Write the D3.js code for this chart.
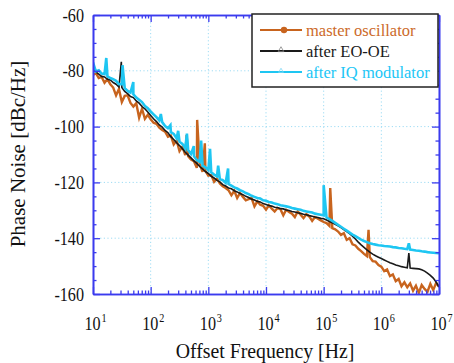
<!DOCTYPE html>
<html><head><meta charset="utf-8">
<script src="https://cdn.jsdelivr.net/npm/d3@7"></script>
<style>body{margin:0;background:#fff}svg{display:block}</style>
</head><body>
<svg id="c" width="454" height="363"></svg>
<script>
// ---- data ----
const logFreq = [1.00,1.05,1.10,1.15,1.20,1.25,1.30,1.35,1.40,1.45,1.50,1.55,1.60,1.65,1.70,1.75,1.80,1.85,1.90,1.95,
2.00,2.05,2.10,2.15,2.20,2.25,2.30,2.35,2.40,2.45,2.50,2.55,2.60,2.65,2.70,2.75,2.80,2.85,2.90,2.95,
3.00,3.05,3.10,3.15,3.20,3.25,3.30,3.35,3.40,3.45,3.50,3.55,3.60,3.65,3.70,3.75,3.80,3.85,3.90,3.95,
4.00,4.05,4.10,4.15,4.20,4.25,4.30,4.35,4.40,4.45,4.50,4.55,4.60,4.65,4.70,4.75,4.80,4.85,4.90,4.95,
5.00,5.05,5.10,5.15,5.20,5.25,5.30,5.35,5.40,5.45,5.50,5.55,5.60,5.65,5.70,5.75,5.80,5.85,5.90,5.95,
6.00,6.05,6.10,6.15,6.20,6.25,6.30,6.35,6.40,6.45,6.50,6.55,6.60,6.65,6.70,6.75,6.80,6.85,6.90,6.95,7.00];

const masterOsc = [-81.5,-80.8,-82.6,-82.2,-84.3,-83.0,-84.8,-86.0,-88.8,-86.5,
-91.2,-89.0,-88.8,-91.5,-92.8,-91.6,-96.8,-93.6,-97.2,-95.8,
-97.4,-98.6,-99.0,-100.4,-101.2,-101.8,-103.6,-103.2,-106.4,-105.0,
-108.8,-107.2,-110.2,-110.6,-111.8,-112.4,-114.8,-113.4,-116.2,-116.0,
-117.6,-117.4,-119.8,-118.6,-120.4,-121.4,-122.0,-122.8,-124.6,-123.0,
-125.6,-123.8,-125.2,-126.4,-126.0,-125.6,-128.6,-126.8,-128.0,-128.4,
-129.8,-128.2,-129.4,-130.4,-129.2,-129.6,-131.8,-129.8,-130.6,-131.2,
-132.4,-130.4,-131.6,-132.8,-131.4,-132.2,-133.8,-132.4,-133.0,-133.6,
-134.2,-134.6,-135.6,-136.4,-136.8,-137.6,-138.8,-138.2,-140.6,-140.0,
-142.2,-142.6,-143.8,-144.6,-145.6,-146.4,-146.8,-148.2,-148.4,-149.6,
-150.2,-151.8,-151.2,-153.6,-153.0,-155.4,-154.6,-157.2,-155.8,-157.6,
-156.2,-158.8,-157.0,-159.6,-156.8,-158.2,-159.2,-156.4,-158.6,-156.0,-157.4];

const afterEOOE = [-79.5,-80.4,-81.2,-82.0,-82.2,-83.0,-83.3,-84.2,-84.8,-85.8,
-86.0,-87.4,-88.2,-89.2,-89.6,-90.8,-91.6,-92.8,-93.6,-94.8,
-96.0,-97.2,-98.2,-99.4,-100.2,-101.4,-102.2,-103.6,-104.6,-105.8,
-106.8,-107.9,-109.2,-110.2,-111.2,-112.3,-113.2,-114.3,-115.2,-116.1,
-116.8,-117.8,-118.4,-119.3,-119.8,-120.8,-121.3,-122.0,-122.3,-123.0,
-123.4,-124.0,-124.4,-125.0,-125.4,-126.0,-126.3,-126.8,-127.0,-127.6,
-127.9,-128.3,-128.5,-128.9,-129.0,-129.4,-129.5,-129.9,-130.1,-130.4,
-130.6,-130.9,-131.1,-131.4,-131.6,-131.9,-132.1,-132.4,-132.6,-132.9,
-133.0,-133.5,-134.0,-134.5,-135.0,-135.6,-136.2,-136.9,-137.6,-138.4,
-139.3,-140.3,-141.4,-142.4,-143.3,-144.2,-145.0,-145.7,-146.3,-146.8,
-147.3,-147.8,-148.3,-148.8,-149.2,-149.6,-149.9,-150.2,-150.4,-150.6,
-150.7,-150.8,-150.9,-151.0,-151.3,-151.8,-152.5,-153.3,-154.3,-155.7,-157.5];

const afterIQ = [-77.0,-80.2,-79.8,-81.0,-81.2,-82.0,-82.6,-83.0,-83.6,-84.8,
-84.8,-86.2,-87.2,-87.8,-88.4,-89.6,-90.4,-91.2,-92.6,-93.4,
-94.6,-95.6,-96.6,-97.8,-98.4,-99.8,-100.6,-102.0,-102.6,-104.2,
-105.4,-106.2,-107.8,-108.4,-109.8,-110.6,-112.0,-112.6,-114.0,-114.6,
-115.6,-116.4,-117.2,-117.8,-118.8,-119.2,-120.2,-120.6,-121.2,-121.8,
-122.2,-122.8,-123.2,-123.8,-124.2,-124.8,-125.2,-125.6,-125.8,-126.4,
-126.6,-127.0,-127.2,-127.6,-127.8,-128.2,-128.4,-128.6,-128.8,-129.2,
-129.4,-129.6,-129.8,-130.2,-130.4,-130.6,-130.8,-131.2,-131.4,-131.6,
-131.8,-132.6,-133.2,-133.8,-134.5,-135.2,-135.9,-136.6,-137.3,-138.0,
-138.7,-139.3,-139.9,-140.5,-141.0,-141.4,-141.8,-142.1,-142.3,-142.5,
-142.6,-142.8,-142.9,-143.0,-143.2,-143.3,-143.5,-143.6,-143.8,-143.9,
-144.1,-144.2,-144.4,-144.5,-144.7,-144.8,-145.0,-145.1,-145.2,-145.3,-145.4];

// spurs: [frequency Hz, level dBc/Hz]
const masterSpurs = [[420,-103],[640,-97.6],[870,-106],[1.3e5,-122],[6.0e5,-137]];
const eoSpurs = [[31,-76.8],[3.0e6,-145.3]];
const iqSpurs = [[17,-75.4],[32.5,-78],[50,-84],[150,-95.5],[220,-99.5],[300,-101.5],[425,-102.5],[560,-107],[750,-105],[1070,-108],[1480,-114],[2200,-115],[1.0e5,-121],[3.0e6,-141.8]];

const xTickExp = [1,2,3,4,5,6,7];
const yTicks = [-60,-80,-100,-120,-140,-160];
const legendLabels = ["master oscillator","after EO-OE","after IQ modulator"];
const colors = ["#c8641e","#1a1a1a","#1ec6f2"];

// ---- chart ----
const svg = d3.select("#c");
const L = 93, R = 439, T = 15, B = 294;
const x = d3.scaleLog().domain([10,1e7]).range([L,R]);
const y = d3.scaleLinear().domain([-160,-60]).range([B,T]);
const axisColor = "#3b3bee";
const font = "'Liberation Serif','Times New Roman',serif";

svg.append("defs").append("clipPath").attr("id","pa")
  .append("rect").attr("x",L).attr("y",T).attr("width",R-L).attr("height",B-T);

// grid
const g = svg.append("g").attr("stroke","#9edcf4").attr("stroke-width",1).attr("stroke-dasharray","1.2,2.4");
[100,1e3,1e4,1e5,1e6].forEach(v=>g.append("line").attr("x1",x(v)).attr("x2",x(v)).attr("y1",T).attr("y2",B));
[-80,-100,-120,-140].forEach(v=>g.append("line").attr("x1",L).attr("x2",R).attr("y1",y(v)).attr("y2",y(v)));

function build(vals, spurs){
  const pts = logFreq.map((lf,i)=>[Math.pow(10,lf), vals[i]]);
  spurs.forEach(s=>pts.push(s));
  pts.sort((a,b)=>a[0]-b[0]);
  return pts;
}
const series = [build(masterOsc,masterSpurs), build(afterEOOE,eoSpurs), build(afterIQ,iqSpurs)];
const widths = [2.4,1.6,2.6];
const line = d3.line().x(d=>x(d[0])).y(d=>y(d[1]));
const dg = svg.append("g").attr("clip-path","url(#pa)");
[0,1,2].forEach(k=>{
  dg.append("path").attr("d",line(series[k])).attr("fill","none")
    .attr("stroke",colors[k]).attr("stroke-width",widths[k]).attr("stroke-linejoin","miter");
});

// axes
const major = d3.range(1,8).map(e=>Math.pow(10,e));
const minor = [];
for(let e=1;e<7;e++) for(let m=2;m<10;m++) minor.push(m*Math.pow(10,e));
const yMinor = d3.range(-155,-60,5).filter(v=>v%20!==0);
function styleAxis(sel){
  sel.select(".domain").attr("stroke",axisColor).attr("stroke-width",1.6);
  sel.selectAll(".tick line").attr("stroke",axisColor).attr("stroke-width",1.3);
  sel.selectAll("text").remove();
}
const ax = [
  [d3.axisBottom, x, `translate(0,${B})`, major, minor],
  [d3.axisTop, x, `translate(0,${T})`, major, minor],
  [d3.axisLeft, y, `translate(${L},0)`, yTicks, yMinor],
  [d3.axisRight, y, `translate(${R},0)`, yTicks, yMinor]
];
ax.forEach(([fn,sc,tr,mj,mn])=>{
  svg.append("g").attr("transform",tr).call(fn(sc).tickValues(mn).tickSize(-3.5).tickSizeOuter(0).tickFormat("")).call(styleAxis);
  svg.append("g").attr("transform",tr).call(fn(sc).tickValues(mj).tickSize(-7).tickSizeOuter(0).tickFormat("")).call(styleAxis);
});

// y tick labels
yTicks.forEach(v=>{
  svg.append("text").attr("transform",`translate(84,${y(v)+6.5}) scale(0.85,1)`)
    .attr("text-anchor","end").attr("font-family",font).attr("font-size",19).attr("fill","#111").text(v);
});
// x tick labels
xTickExp.forEach(e=>{
  const t = svg.append("text").attr("transform",`translate(${x(Math.pow(10,e))-8.5},330) scale(0.85,1)`)
    .attr("font-family",font).attr("font-size",19).attr("fill","#111");
  t.append("tspan").text("10");
  t.append("tspan").attr("font-size",12).attr("dy",-8).attr("dx",1).text(e);
});
// axis titles
svg.append("text").attr("transform","translate(265,358) scale(0.9,1)").attr("text-anchor","middle")
  .attr("font-family",font).attr("font-size",22).attr("fill","#111").text("Offset Frequency [Hz]");
svg.append("text").attr("transform","translate(25,154) rotate(-90)").attr("text-anchor","middle")
  .attr("font-family",font).attr("font-size",21).attr("fill","#111").text("Phase Noise [dBc/Hz]");

// legend
const lg = svg.append("g");
lg.append("rect").attr("x",252).attr("y",14).attr("width",186).attr("height",73)
  .attr("fill","#fff").attr("stroke","#222").attr("stroke-width",1.5);
const rows = [30,51,72];
const textColors = ["#cc6a2a","#1a1a1a","#22c6f6"];
legendLabels.forEach((lab,i)=>{
  lg.append("line").attr("x1",260).attr("x2",302).attr("y1",rows[i]).attr("y2",rows[i])
    .attr("stroke",colors[i]).attr("stroke-width",2);
  lg.append("text").attr("x",306).attr("y",rows[i]+5.5).attr("font-family",font).attr("font-size",16.5)
    .attr("fill",textColors[i]).text(lab);
});
lg.append("circle").attr("cx",284).attr("cy",rows[0]).attr("r",3.2).attr("fill",colors[0]);
lg.append("path").attr("d",d3.symbol(d3.symbolTriangle,14)()).attr("transform",`translate(281,${rows[1]-1})`)
  .attr("fill","none").attr("stroke","#888").attr("stroke-width",0.8);
lg.append("path").attr("d",d3.symbol(d3.symbolTriangle,10)()).attr("transform",`translate(281,${rows[2]-1})`)
  .attr("fill","none").attr("stroke","#7fd8f6").attr("stroke-width",0.8);
</script>
</body></html>
